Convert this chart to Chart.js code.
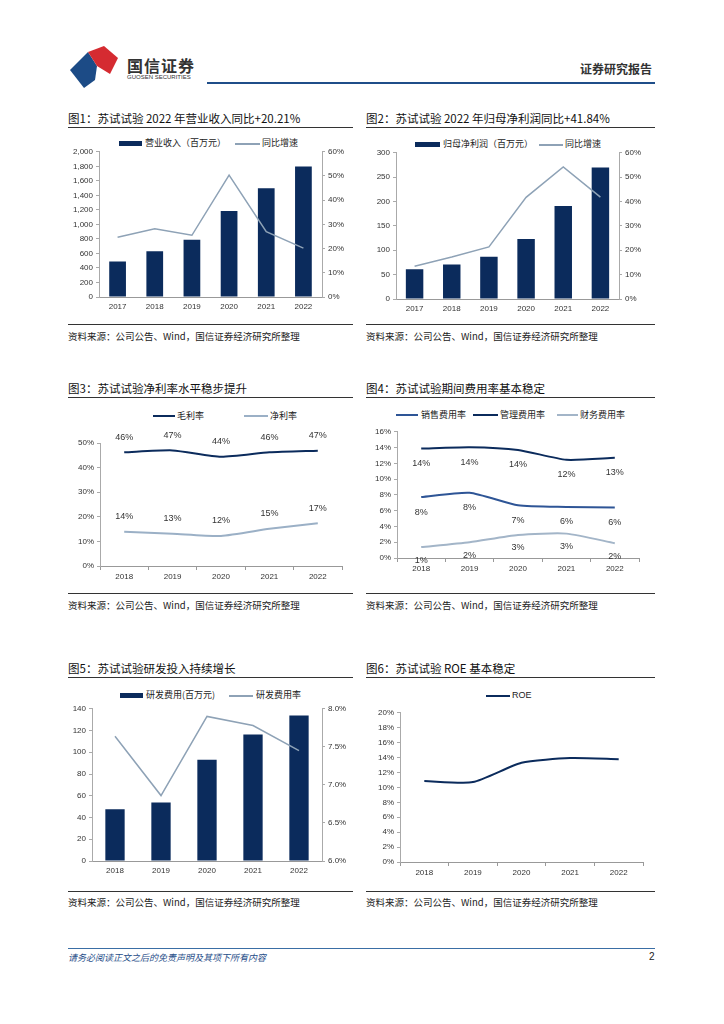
<!DOCTYPE html>
<html>
<head>
<meta charset="utf-8">
<script src="https://cdn.jsdelivr.net/npm/chart.js@4"></script>
<style>
  body { margin: 0; background: #fff; }
  #page { position: relative; width: 724px; height: 1024px; font-family: "Noto Sans CJK SC", "Liberation Sans", sans-serif; color: #222; }
  .abs { position: absolute; }
  .title { font-size: 11.5px; color: #111; white-space: nowrap; }
  .rule { height: 1px; background: #333; }
  .src { font-size: 9.5px; color: #222; white-space: nowrap; }
  .leg { font-size: 9px; color: #222; white-space: nowrap; line-height: 10px; }
  .sw { position: absolute; }
  canvas { position: absolute; }
</style>
</head>
<body>
<div id="page">
  <!-- header -->
  <svg class="abs" style="left:68px;top:46px" width="56" height="44" viewBox="0 0 56 44">
    <polygon points="2,24 20,6 29,20 27,34 16,42" fill="#1c4b86"/>
    <polygon points="20,6 36,0 50,12 42,28 29,20" fill="#d52b31"/>
  </svg>
  <div class="abs" style="left:127px;top:53px;font-size:16px;font-weight:bold;color:#333;letter-spacing:1px">国信证券</div>
  <div class="abs" style="left:127px;top:74px;font-size:6px;color:#333;font-family:'Liberation Sans'">GUOSEN SECURITIES</div>
  <div class="abs" style="left:580px;top:60px;font-size:12px;font-weight:bold;color:#333">证券研究报告</div>
  <div class="abs" style="left:207px;top:82px;width:448px;height:2px;background:#1f4e89"></div>

  <!-- chart 1 -->
  <div class="abs title" style="left:68px;top:110px">图1：苏试试验 2022 年营业收入同比+20.21%</div>
  <div class="abs rule" style="left:68px;top:127px;width:285px"></div>
  <div class="sw" style="left:119px;top:141px;width:23px;height:5px;background:#0b2b5c"></div>
  <div class="abs leg" style="left:145px;top:138px">营业收入（百万元）</div>
  <div class="sw" style="left:235px;top:143px;width:25px;height:1.5px;background:#8ea2b6"></div>
  <div class="abs leg" style="left:262px;top:138px">同比增速</div>
  <canvas id="c1" style="left:60px;top:144px;width:300px;height:173px"></canvas>
  <div class="abs rule" style="left:68px;top:324px;width:285px"></div>
  <div class="abs src" style="left:68px;top:329px">资料来源：公司公告、Wind，国信证券经济研究所整理</div>

  <!-- chart 2 -->
  <div class="abs title" style="left:366px;top:110px">图2：苏试试验 2022 年归母净利润同比+41.84%</div>
  <div class="abs rule" style="left:366px;top:127px;width:289px"></div>
  <div class="sw" style="left:415px;top:142px;width:25px;height:5px;background:#0b2b5c"></div>
  <div class="abs leg" style="left:443px;top:139px">归母净利润（百万元）</div>
  <div class="sw" style="left:539px;top:144px;width:24px;height:1.5px;background:#8ea2b6"></div>
  <div class="abs leg" style="left:565px;top:139px">同比增速</div>
  <canvas id="c2" style="left:360px;top:145px;width:300px;height:174px"></canvas>
  <div class="abs rule" style="left:366px;top:324px;width:289px"></div>
  <div class="abs src" style="left:366px;top:329px">资料来源：公司公告、Wind，国信证券经济研究所整理</div>

  <!-- chart 3 -->
  <div class="abs title" style="left:68px;top:380px">图3：苏试试验净利率水平稳步提升</div>
  <div class="abs rule" style="left:68px;top:397px;width:285px"></div>
  <div class="sw" style="left:153px;top:415px;width:22px;height:2px;background:#0b2b5c"></div>
  <div class="abs leg" style="left:177px;top:411px">毛利率</div>
  <div class="sw" style="left:244px;top:415px;width:24px;height:2px;background:#9bb0c6"></div>
  <div class="abs leg" style="left:270px;top:411px">净利率</div>
  <canvas id="c3" style="left:60px;top:425px;width:300px;height:161px"></canvas>
  <div class="abs rule" style="left:68px;top:593px;width:285px"></div>
  <div class="abs src" style="left:68px;top:598px">资料来源：公司公告、Wind，国信证券经济研究所整理</div>

  <!-- chart 4 -->
  <div class="abs title" style="left:366px;top:380px">图4：苏试试验期间费用率基本稳定</div>
  <div class="abs rule" style="left:366px;top:397px;width:289px"></div>
  <div class="sw" style="left:396px;top:414px;width:22px;height:2px;background:#2e5596"></div>
  <div class="abs leg" style="left:421px;top:410px">销售费用率</div>
  <div class="sw" style="left:473px;top:414px;width:25px;height:2px;background:#0b2b5c"></div>
  <div class="abs leg" style="left:500px;top:410px">管理费用率</div>
  <div class="sw" style="left:557px;top:414px;width:21px;height:2px;background:#a3b5c8"></div>
  <div class="abs leg" style="left:580px;top:410px">财务费用率</div>
  <canvas id="c4" style="left:360px;top:424px;width:300px;height:154px"></canvas>
  <div class="abs rule" style="left:366px;top:593px;width:289px"></div>
  <div class="abs src" style="left:366px;top:598px">资料来源：公司公告、Wind，国信证券经济研究所整理</div>

  <!-- chart 5 -->
  <div class="abs title" style="left:68px;top:660px">图5：苏试试验研发投入持续增长</div>
  <div class="abs rule" style="left:68px;top:677px;width:285px"></div>
  <div class="sw" style="left:120px;top:693px;width:23px;height:5px;background:#0b2b5c"></div>
  <div class="abs leg" style="left:146px;top:690px">研发费用(百万元)</div>
  <div class="sw" style="left:229px;top:695px;width:24px;height:1.5px;background:#8ea2b6"></div>
  <div class="abs leg" style="left:256px;top:690px">研发费用率</div>
  <canvas id="c5" style="left:60px;top:701px;width:300px;height:180px"></canvas>
  <div class="abs rule" style="left:68px;top:891px;width:285px"></div>
  <div class="abs src" style="left:68px;top:895px">资料来源：公司公告、Wind，国信证券经济研究所整理</div>

  <!-- chart 6 -->
  <div class="abs title" style="left:366px;top:660px">图6：苏试试验 ROE 基本稳定</div>
  <div class="abs rule" style="left:366px;top:677px;width:289px"></div>
  <div class="sw" style="left:486px;top:695px;width:24px;height:2px;background:#0b2b5c"></div>
  <div class="abs leg" style="left:512px;top:690px;font-family:'Liberation Sans'">ROE</div>
  <canvas id="c6" style="left:360px;top:705px;width:300px;height:177px"></canvas>
  <div class="abs rule" style="left:366px;top:891px;width:289px"></div>
  <div class="abs src" style="left:366px;top:895px">资料来源：公司公告、Wind，国信证券经济研究所整理</div>

  <!-- footer -->
  <div class="abs" style="left:68px;top:948px;width:587px;height:1px;background:#3a6ea5"></div>
  <div class="abs" style="left:68px;top:951px;font-size:9px;font-style:italic;color:#1f4e89">请务必阅读正文之后的免责声明及其项下所有内容</div>
  <div class="abs" style="left:649px;top:951px;font-size:10px;color:#222;font-family:'Liberation Sans'">2</div>
</div>

<script>
// ---- data ----
var years6 = ["2017", "2018", "2019", "2020", "2021", "2022"];
var years5 = ["2018", "2019", "2020", "2021", "2022"];

var revenue = [488, 630, 790, 1183, 1498, 1799];          // 营业收入（百万元）
var revenueGrowth = [24.7, 28.2, 25.5, 50.4, 27.0, 20.2];  // 同比增速 %

var netProfit = [61, 70.6, 86.9, 122.9, 190.7, 270];       // 归母净利润（百万元）
var netProfitGrowth = [13.4, 17.2, 21.4, 41.7, 54.2, 41.8];

var grossMargin = [46.2, 47.0, 44.4, 46.2, 46.9];          // 毛利率 %
var netMargin = [13.9, 13.1, 12.2, 15.1, 17.4];            // 净利率 %

var sellingRate = [7.73, 8.27, 6.68, 6.47, 6.39];          // 销售费用率 %
var adminRate = [13.87, 14.04, 13.7, 12.45, 12.7];         // 管理费用率 %
var financeRate = [1.38, 2.0, 2.92, 3.09, 1.88];           // 财务费用率 %

var rdExpense = [47.5, 53.9, 93.1, 116.4, 133.9];          // 研发费用（百万元）
var rdRate = [7.64, 6.86, 7.9, 7.78, 7.45];                // 研发费用率 %

var roe = [10.85, 10.71, 13.3, 13.93, 13.79];              // ROE %

// ---- common styling ----
var NAVY = '#0b2b5c', GREYBLUE = '#8ea2b6';
Chart.defaults.font.family = "'Liberation Sans', 'Noto Sans CJK SC', sans-serif";
Chart.defaults.font.size = 8;
Chart.defaults.color = '#333';
Chart.defaults.animation = false;
Chart.defaults.plugins.legend.display = false;
Chart.defaults.plugins.tooltip.enabled = false;
Chart.defaults.elements.point.radius = 0;

function fixW(w) { return function (s) { s.width = w; }; }
function fixH(h) { return function (s) { s.height = h; }; }

function xAxis(h, ticks) {
  return {
    offset: true,
    afterFit: fixH(h),
    border: { display: true, color: '#999' },
    grid: { display: true, offset: true, drawOnChartArea: false, tickLength: ticks ? 4 : 0, color: '#999' },
    ticks: { padding: ticks ? 2 : 5, maxRotation: 0 }
  };
}
function yAxis(pos, w, min, max, step, fmt) {
  return {
    position: pos, min: min, max: max,
    afterFit: fixW(w),
    border: { display: true, color: '#aaa' },
    grid: { drawOnChartArea: false, tickLength: 3, color: '#aaa' },
    ticks: { stepSize: step, padding: 3, callback: fmt }
  };
}
var plain = function (v) { return String(v); };
var pct0 = function (v) { return v + '%'; };
var pct1 = function (v) { return v.toFixed(1) + '%'; };
var comma = function (v) { return v.toLocaleString('en-US'); };

// value labels for the margin charts
var valueLabels = {
  id: 'valueLabels',
  afterDatasetsDraw: function (chart) {
    var ctx = chart.ctx;
    ctx.save();
    ctx.font = "9px 'Liberation Sans', sans-serif";
    ctx.fillStyle = '#333';
    ctx.textAlign = 'center';
    ctx.textBaseline = 'middle';
    chart.data.datasets.forEach(function (ds, i) {
      if (ds.labelOffset === undefined) return;
      chart.getDatasetMeta(i).data.forEach(function (pt, j) {
        ctx.fillText(Math.round(ds.data[j]) + '%', pt.x, pt.y + ds.labelOffset);
      });
    });
    ctx.restore();
  }
};

// 图1
new Chart(document.getElementById('c1'), {
  type: 'bar',
  data: {
    labels: years6,
    datasets: [
      { type: 'line', label: '同比增速', data: revenueGrowth, yAxisID: 'y1', borderColor: GREYBLUE, borderWidth: 1.5, order: 0 },
      { label: '营业收入（百万元）', data: revenue, yAxisID: 'y', backgroundColor: NAVY, barPercentage: 0.45, categoryPercentage: 1, order: 1 }
    ]
  },
  options: {
    responsive: false,
    layout: { padding: { top: 7 } },
    scales: {
      x: xAxis(20, false),
      y: yAxis('left', 39, 0, 2000, 200, comma),
      y1: yAxis('right', 38, 0, 60, 10, pct0)
    }
  }
});

// 图2
new Chart(document.getElementById('c2'), {
  type: 'bar',
  data: {
    labels: years6,
    datasets: [
      { type: 'line', label: '同比增速', data: netProfitGrowth, yAxisID: 'y1', borderColor: GREYBLUE, borderWidth: 1.5, order: 0 },
      { label: '归母净利润（百万元）', data: netProfit, yAxisID: 'y', backgroundColor: NAVY, barPercentage: 0.47, categoryPercentage: 1, order: 1 }
    ]
  },
  options: {
    responsive: false,
    layout: { padding: { top: 7 } },
    scales: {
      x: xAxis(20, false),
      y: yAxis('left', 36, 0, 300, 50, plain),
      y1: yAxis('right', 41, 0, 60, 10, pct0)
    }
  }
});

// 图3
new Chart(document.getElementById('c3'), {
  type: 'line',
  data: {
    labels: years5,
    datasets: [
      { label: '毛利率', data: grossMargin, borderColor: NAVY, borderWidth: 2, tension: 0.2, labelOffset: -15 },
      { label: '净利率', data: netMargin, borderColor: '#9bb0c6', borderWidth: 2, tension: 0.2, labelOffset: -15 }
    ]
  },
  options: {
    responsive: false,
    layout: { padding: { top: 18, right: 18 } },
    scales: {
      x: xAxis(20, true),
      y: yAxis('left', 40, 0, 50, 5, pct0)
    }
  },
  plugins: [valueLabels]
});

// 图4
new Chart(document.getElementById('c4'), {
  type: 'line',
  data: {
    labels: years5,
    datasets: [
      { label: '销售费用率', data: sellingRate, borderColor: '#2e5596', borderWidth: 2, tension: 0.2, labelOffset: 15 },
      { label: '管理费用率', data: adminRate, borderColor: NAVY, borderWidth: 2, tension: 0.2, labelOffset: 15 },
      { label: '财务费用率', data: financeRate, borderColor: '#a3b5c8', borderWidth: 2, tension: 0.2, labelOffset: 13 }
    ]
  },
  options: {
    responsive: false,
    layout: { padding: { top: 7, right: 21 } },
    scales: {
      x: xAxis(20, true),
      y: yAxis('left', 37, 0, 16, 2, pct0)
    }
  },
  plugins: [valueLabels]
});

// 图5
new Chart(document.getElementById('c5'), {
  type: 'bar',
  data: {
    labels: years5,
    datasets: [
      { type: 'line', label: '研发费用率', data: rdRate, yAxisID: 'y1', borderColor: GREYBLUE, borderWidth: 1.5, order: 0 },
      { label: '研发费用(百万元)', data: rdExpense, yAxisID: 'y', backgroundColor: NAVY, barPercentage: 0.42, categoryPercentage: 1, order: 1 }
    ]
  },
  options: {
    responsive: false,
    layout: { padding: { top: 7 } },
    scales: {
      x: xAxis(20, false),
      y: yAxis('left', 32, 0, 140, 20, plain),
      y1: yAxis('right', 38, 6, 8, 0.5, pct1)
    }
  }
});

// 图6
new Chart(document.getElementById('c6'), {
  type: 'line',
  data: {
    labels: years5,
    datasets: [
      { label: 'ROE', data: roe, borderColor: NAVY, borderWidth: 2, tension: 0.2 }
    ]
  },
  options: {
    responsive: false,
    layout: { padding: { top: 7, right: 17 } },
    scales: {
      x: xAxis(20, true),
      y: yAxis('left', 40, 0, 20, 2, pct0)
    }
  }
});
</script>
</body>
</html>
